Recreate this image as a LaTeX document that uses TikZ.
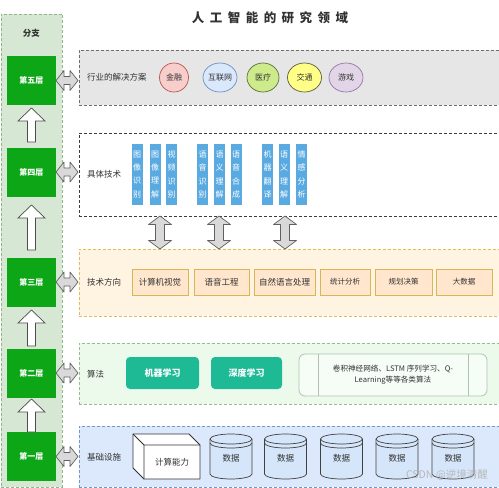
\documentclass[tikz,border=0pt]{standalone}
\usepackage{fontspec}
\setmainfont{Noto Sans CJK SC}
\usetikzlibrary{calc}
\definecolor{layergreen}{RGB}{12,166,22}
\definecolor{leftfill}{RGB}{214,232,212}
\definecolor{leftdraw}{RGB}{150,180,140}
\definecolor{p5fill}{RGB}{230,230,230}
\definecolor{p5draw}{RGB}{110,110,110}
\definecolor{p4draw}{RGB}{60,60,60}
\definecolor{p3fill}{RGB}{255,243,226}
\definecolor{p3draw}{RGB}{228,186,96}
\definecolor{p2fill}{RGB}{236,250,236}
\definecolor{p2draw}{RGB}{150,190,140}
\definecolor{p1fill}{RGB}{220,233,252}
\definecolor{p1draw}{RGB}{120,150,195}
\definecolor{barblue}{RGB}{90,170,226}
\definecolor{boxfill}{RGB}{255,230,204}
\definecolor{boxdraw}{RGB}{214,182,86}
\definecolor{teal}{RGB}{30,186,150}
\definecolor{txt}{RGB}{50,50,50}
\definecolor{cylfill}{RGB}{214,230,250}
\begin{document}
\begin{tikzpicture}[x=1pt,y=-1pt,
  every node/.style={inner sep=0pt, text=txt},
  panel/.style={anchor=north west, minimum width=420pt, line width=0.9pt, dash pattern=on 3pt off 2pt},
  layerbox/.style={fill=layergreen, minimum width=49pt, minimum height=49pt, text=white, font=\fontsize{8}{10}\selectfont\bfseries},
  lbl/.style={anchor=west, font=\fontsize{8.5}{10}\selectfont},
  ell/.style={ellipse, draw, line width=0.7pt, minimum height=29pt, font=\fontsize{8}{10}\selectfont},
  vbar/.style={fill=barblue, minimum width=11pt, minimum height=61pt, text=white, align=center, font=\fontsize{8}{13.2}\selectfont},
  dirbox/.style={fill=boxfill, draw=boxdraw, line width=1pt, minimum height=26pt},
  tealbox/.style={fill=teal, rounded corners=4pt, minimum height=32pt, text=white, font=\fontsize{9}{11}\selectfont\bfseries},
  grayarr/.style={fill=gray!30, draw=gray!75!black, line width=0.7pt, line join=round},
  uparrsty/.style={fill=white, draw=gray!60!black, line width=0.7pt},
  cylsty/.style={fill=cylfill, draw=gray!50!black, line width=0.7pt},
]
\usetikzlibrary{shapes.geometric}
\useasboundingbox (0,0) rectangle (499,488);
\fill[white] (0,0) rectangle (499,488);

% title
\node (title) at (270,17.5) {\fontsize{12.5}{14}\selectfont\bfseries 人\hspace{5.5pt}工\hspace{5.5pt}智\hspace{5.5pt}能\hspace{5.5pt}的\hspace{5.5pt}研\hspace{5.5pt}究\hspace{5.5pt}领\hspace{5.5pt}域};

% left column
\node[anchor=north west, minimum width=61pt, minimum height=473.5pt, fill=leftfill, draw=leftdraw, line width=0.9pt, dash pattern=on 3pt off 2pt] (left) at (1,13.5) {};
\node[font=\fontsize{8.5}{10}\selectfont\bfseries] (branch) at (31.5,33) {分支};

\node[layerbox] (L5) at (31.5,80.5) {第五层};
\node[layerbox] (L4) at (31.5,172) {第四层};
\node[layerbox] (L3) at (31.5,282) {第三层};
\node[layerbox] (L2) at (31.5,373) {第二层};
\node[layerbox] (L1) at (31.5,456.5) {第一层};

\newcommand\uparr[2]{\draw[uparrsty] (31.5,#1) -- (45,#1+13) -- (35.5,#1+13) -- (35.5,#2) -- (27.5,#2) -- (27.5,#1+13) -- (18,#1+13) -- cycle;}
\uparr{108}{142}
\uparr{205}{250}
\uparr{310}{346}
\uparr{399}{432}

% panels
\node[panel, minimum height=55pt, fill=p5fill, draw=p5draw] (P5) at (78.5,50) {};
\node[panel, minimum height=83pt, fill=white, draw=p4draw] (P4) at (78.5,133) {};
\node[panel, minimum height=67pt, fill=p3fill, draw=p3draw] (P3) at (78.5,249) {};
\node[panel, minimum height=61pt, fill=p2fill, draw=p2draw] (P2) at (78.5,343) {};
\node[panel, minimum height=61pt, fill=p1fill, draw=p1draw] (P1) at (78.5,426) {};

% horizontal double arrows
\newcommand\harr[1]{\draw[grayarr] (56,#1) -- (64,#1-10) -- (64,#1-4) -- (70,#1-4) -- (70,#1-10) -- (78,#1) -- (70,#1+10) -- (70,#1+4) -- (64,#1+4) -- (64,#1+10) -- cycle;}
\harr{80.5}
\harr{172}
\harr{282}
\harr{373}
\harr{456.5}

% panel 5
\node[lbl] (t5) at (87,77.5) {行业的解决方案};
\node[ell, fill={rgb,255:red,248;green,206;blue,204}, draw={rgb,255:red,184;green,84;blue,80}, minimum width=29pt] (e1) at (174,77.5) {金融};
\node[ell, fill={rgb,255:red,218;green,232;blue,252}, draw={rgb,255:red,108;green,142;blue,191}, minimum width=34pt] (e2) at (220,77.5) {互联网};
\node[ell, fill={rgb,255:red,205;green,235;blue,139}, draw={rgb,255:red,90;green,110;blue,60}, minimum width=32pt] (e3) at (263,77.5) {医疗};
\node[ell, fill={rgb,255:red,255;green,255;blue,136}, draw={rgb,255:red,90;green,90;blue,60}, minimum width=34pt] (e4) at (304.5,77.5) {交通};
\node[ell, fill={rgb,255:red,225;green,213;blue,231}, draw={rgb,255:red,150;green,115;blue,166}, minimum width=34pt] (e5) at (346,77.5) {游戏};

% panel 4
\node[lbl] (t4) at (87,174) {具体技术};
\node[vbar] (b1) at (137,174.5) {图\\像\\识\\别};
\node[vbar] (b2) at (155,174.5) {图\\像\\理\\解};
\node[vbar] (b3) at (171.5,174.5) {视\\频\\识\\别};
\node[vbar] (b4) at (202.5,174.5) {语\\音\\识\\别};
\node[vbar] (b5) at (219.5,174.5) {语\\义\\理\\解};
\node[vbar] (b6) at (236,174.5) {语\\音\\合\\成};
\node[vbar] (b7) at (267.5,174.5) {机\\器\\翻\\译};
\node[vbar] (b8) at (284,174.5) {语\\义\\理\\解};
\node[vbar] (b9) at (301.5,174.5) {情\\感\\分\\析};

% vertical double arrows
\newcommand\varr[1]{\draw[grayarr] (#1,216) -- (#1+11.5,224.5) -- (#1+4.5,224.5) -- (#1+4.5,240.5) -- (#1+11.5,240.5) -- (#1,249) -- (#1-11.5,240.5) -- (#1-4.5,240.5) -- (#1-4.5,224.5) -- (#1-11.5,224.5) -- cycle;}
\varr{160}
\varr{219}
\varr{285}

% panel 3
\node[lbl] (t3) at (87,282) {技术方向};
\node[dirbox, minimum width=56pt, font=\fontsize{8.5}{10}\selectfont] (c1) at (160,282) {计算机视觉};
\node[dirbox, minimum width=55pt, font=\fontsize{8.5}{10}\selectfont] (c2) at (221.5,282) {语音工程};
\node[dirbox, minimum width=61pt, font=\fontsize{8.5}{10}\selectfont] (c3) at (284.5,282) {自然语言处理};
\node[dirbox, minimum width=50pt, font=\fontsize{7.5}{9}\selectfont] (c4) at (345,282) {统计分析};
\node[dirbox, minimum width=57pt, font=\fontsize{7.5}{9}\selectfont] (c5) at (403.5,282) {规划决策};
\node[dirbox, minimum width=56pt, font=\fontsize{7.5}{9}\selectfont] (c6) at (464,282) {大数据};

% panel 2
\node[lbl] (t2) at (87,374) {算法};
\node[tealbox, minimum width=73pt] (m1) at (162.5,373) {机器学习};
\node[tealbox, minimum width=71pt] (m2) at (246.5,373) {深度学习};
\node[draw={rgb,255:red,175;green,195;blue,175}, fill={rgb,255:red,246;green,253;blue,246}, line width=0.8pt, rounded corners=6pt, minimum width=188pt, minimum height=42pt] (alg) at (393,375) {};
\draw[draw={rgb,255:red,175;green,195;blue,175}, line width=0.8pt] (318,354) -- (318,396) (468,354) -- (468,396);
\node[align=center, font=\fontsize{7.6}{11}\selectfont] (algt) at (393,375) {卷积神经网络、LSTM 序列学习、Q-\\Learning等等各类算法};

% panel 1
\node[lbl] (t1) at (87,457) {基础设施};
\draw[fill=white, draw=gray!40!black, line width=0.8pt, line join=round] (133,434) -- (189,434) -- (200,445) -- (200,479) -- (144,479) -- (133,468) -- cycle;
\draw[draw=gray!40!black, line width=0.8pt] (133,434) -- (144,445) -- (200,445) (144,445) -- (144,479);
\node[font=\fontsize{8.5}{10}\selectfont] (cube) at (172,462) {计算能力};

\tikzset{datacyl/.pic={
  \draw[cylsty] (-21,-17.5) -- (-21,17.5) arc[start angle=180,end angle=360,x radius=21pt,y radius=5pt] -- (21,-17.5) arc[start angle=0,end angle=180,x radius=21pt,y radius=5pt] -- cycle;
  \draw[draw=gray!50!black, line width=0.7pt] (-21,-17.5) arc[start angle=180,end angle=360,x radius=21pt,y radius=5pt];
  \draw[draw=gray!50!black, line width=0.7pt] (-21,-13.5) arc[start angle=180,end angle=360,x radius=21pt,y radius=5pt];
}}
\foreach \cx/\nm in {231/d1, 285.5/d2, 341.5/d3, 397/d4, 453/d5}{
  \pic at (\cx,456.5) {datacyl};
  \node[font=\fontsize{8.5}{10}\selectfont] (\nm) at (\cx,458) {数据};
}

% watermark
\node[anchor=east, text=gray!65, font=\fontsize{10.5}{12}\selectfont, opacity=0.8] (wm) at (488,474.5) {CSDN @逆境清醒};
\end{tikzpicture}
\end{document}
